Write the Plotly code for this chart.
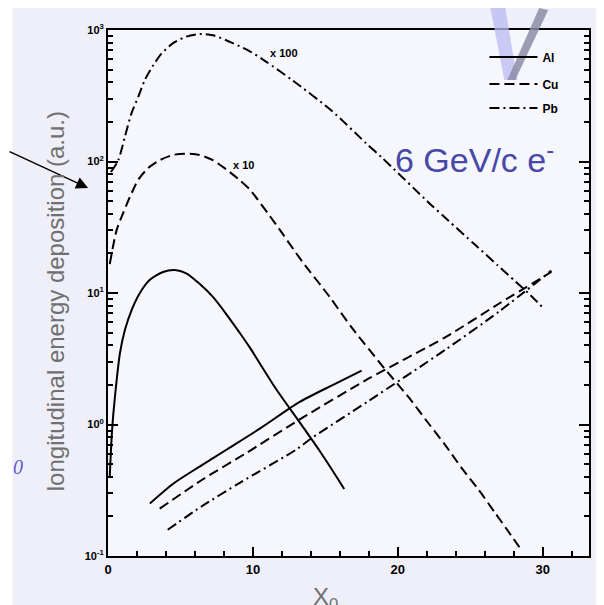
import plotly.graph_objects as go

# ---------------- data (displayed values incl. scale factors) --------------
al_x = [0.12, 0.25, 0.37, 0.6, 0.82, 1.17, 1.63, 2.2, 2.89, 3.8, 4.6, 5.4, 6.32, 7.24, 8.16, 9.07, 9.76, 11.6, 13.4, 14.6, 15.9, 16.3]
al_lg = [-0.4, -0.1, 0.085, 0.34, 0.54, 0.72, 0.87, 1.00, 1.10, 1.16, 1.175, 1.15, 1.07, 0.97, 0.84, 0.70, 0.59, 0.27, -0.01, -0.2, -0.42, -0.49]

cu_x = [0.12, 0.6, 1.05, 1.51, 2.08, 2.77, 3.57, 4.49, 5.41, 6.32, 7.24, 8.16, 9.07, 9.76, 11.6, 13.4, 15.3, 16.8, 18.9, 20.8, 21.9, 23.3, 24.4, 25.6, 26.7, 27.8, 28.5]
cu_lg = [1.22, 1.48, 1.61, 1.73, 1.86, 1.95, 2.01, 2.05, 2.06, 2.05, 2.01, 1.94, 1.86, 1.79, 1.52, 1.24, 0.97, 0.74, 0.45, 0.20, 0.04, -0.16, -0.33, -0.50, -0.67, -0.84, -0.95]

pb_x = [0.2, 0.71, 1.17, 1.63, 2.08, 2.54, 3.11, 3.69, 4.49, 5.41, 6.32, 7.24, 8.61, 9.76, 10.9, 12.7, 15.5, 17.8, 18.9, 22.3, 23.5, 25.3, 26.9, 28.1, 29.0, 30.0]
pb_lg = [1.92, 2.01, 2.19, 2.37, 2.49, 2.62, 2.73, 2.82, 2.90, 2.95, 2.97, 2.96, 2.90, 2.84, 2.76, 2.62, 2.38, 2.14, 2.03, 1.67, 1.55, 1.37, 1.21, 1.09, 1.00, 0.89]

al2_x = [2.89, 4.5, 6.32, 8.2, 10.5, 13.2, 15.5, 17.5]
al2_lg = [-0.60, -0.45, -0.32, -0.19, -0.03, 0.17, 0.30, 0.41]

cu2_x = [3.57, 6.5, 9.5, 13.4, 18.0, 23.3, 27.0, 30.6]
cu2_lg = [-0.64, -0.42, -0.22, 0.05, 0.35, 0.665, 0.92, 1.16]

pb2_x = [4.12, 6.5, 9.07, 13.0, 14.1, 18.0, 23.3, 27.0, 30.6]
pb2_lg = [-0.80, -0.62, -0.445, -0.19, -0.10, 0.18, 0.57, 0.86, 1.17]

x_ticks = [0, 10, 20, 30]
y_ticks = [0.1, 1, 10, 100, 1000]
y_ticktext = ["10<sup>-1</sup>", "10<sup>0</sup>", "10<sup>1</sup>", "10<sup>2</sup>", "10<sup>3</sup>"]

to_val = lambda lg: [round(10 ** v, 4) for v in lg]

# ---------------- geometry (page has an 8px body margin) ----------------
OFF = 8
VIS_R = 596
W, H = VIS_R - OFF, 605 - OFF
L, R, T, B = 108, 591, 30, 556          # plot frame in screen pixels
XSCALE = 14.55                           # px per radiation length
px = lambda x: (x - L) / (R - L)        # screen px -> paper
py = lambda y: (B - y) / (B - T)

fig = go.Figure()
lw = 2
DASH = "10px,5px"
DASHDOT = "10px,4px,2px,4px"
SM = 0.7

fig.add_trace(go.Scatter(x=al_x, y=to_val(al_lg), mode="lines", name="<b>Al</b>", legend="legend",
                         line=dict(color="black", width=lw, shape="spline", smoothing=SM)))
fig.add_trace(go.Scatter(x=cu_x, y=to_val(cu_lg), mode="lines", name="<b>Cu</b>", legend="legend2",
                         line=dict(color="black", width=lw, dash=DASH, shape="spline", smoothing=SM)))
fig.add_trace(go.Scatter(x=pb_x, y=to_val(pb_lg), mode="lines", name="<b>Pb</b>", legend="legend3",
                         line=dict(color="black", width=lw, dash=DASHDOT, shape="spline", smoothing=SM)))
fig.add_trace(go.Scatter(x=al2_x, y=to_val(al2_lg), mode="lines", showlegend=False,
                         line=dict(color="black", width=lw, shape="spline", smoothing=SM)))
fig.add_trace(go.Scatter(x=cu2_x, y=to_val(cu2_lg), mode="lines", showlegend=False,
                         line=dict(color="black", width=lw, dash=DASH, shape="spline", smoothing=SM)))
fig.add_trace(go.Scatter(x=pb2_x, y=to_val(pb2_lg), mode="lines", showlegend=False,
                         line=dict(color="black", width=lw, dash=DASHDOT, shape="spline", smoothing=SM)))

shapes = [
    # white strip at the left edge of the slide
    dict(type="rect", xref="paper", yref="paper", x0=px(OFF - 1), x1=px(12), y0=py(606), y1=py(OFF - 1),
         fillcolor="white", line=dict(width=0), layer="below"),
    # lavender "V" decoration (top right)
    dict(type="path", xref="paper", yref="paper",
         path=f"M {px(492)},{py(OFF)} L {px(507)},{py(OFF)} L {px(519)},{py(80)} L {px(506)},{py(80)} Z",
         fillcolor="rgba(185,185,240,0.75)", line=dict(width=0), layer="above"),
    dict(type="path", xref="paper", yref="paper",
         path=f"M {px(541)},{py(OFF)} L {px(550)},{py(OFF + 2)} L {px(517)},{py(80)} L {px(509)},{py(80)} Z",
         fillcolor="rgba(140,140,165,0.85)", line=dict(width=0), layer="above"),
]
fig.update_layout(shapes=shapes)

SANS = "Liberation Sans, Arial"
annotations = [
    dict(x=px(88), y=py(188), ax=-80, ay=-37, xref="paper", yref="paper", axref="pixel", ayref="pixel",
         showarrow=True, arrowhead=2, arrowsize=1.6, arrowwidth=1.5, arrowcolor="black", text=""),
    dict(x=px(55), y=py(301), xref="paper", yref="paper", xanchor="center", yanchor="middle",
         text="longitudinal energy deposition (a.u.)",
         textangle=-90, showarrow=False, font=dict(family=SANS, size=24, color="#707070")),
    dict(x=px(476), y=py(157), xref="paper", yref="paper", xanchor="center", yanchor="middle",
         text="6 GeV/c e<sup>-</sup>",
         showarrow=False, font=dict(family=SANS, size=34, color="#4848a8")),
    dict(x=px(326), y=py(581), xref="paper", yref="paper", xanchor="center", yanchor="top",
         text="X<sub>0</sub>",
         showarrow=False, font=dict(family=SANS, size=24, color="#707070")),
    dict(x=px(18), y=py(467), xref="paper", yref="paper", xanchor="center", yanchor="middle",
         text="<i>0</i>",
         showarrow=False, font=dict(family="Liberation Serif, Times New Roman", size=20, color="#5a5acd")),
    dict(x=px(285), y=py(53), xref="paper", yref="paper", xanchor="center", yanchor="middle",
         text="<b>x 100</b>",
         showarrow=False, font=dict(family=SANS, size=11, color="black")),
    dict(x=px(244), y=py(165), xref="paper", yref="paper", xanchor="center", yanchor="middle",
         text="<b>x 10</b>",
         showarrow=False, font=dict(family=SANS, size=11, color="black")),
]
fig.update_layout(annotations=annotations)

leg_common = dict(xanchor="left", yanchor="middle", bgcolor="rgba(0,0,0,0)", itemwidth=48,
                  font=dict(family=SANS, size=12, color="black"))
fig.update_layout(
    width=W, height=H,
    margin=dict(l=L - OFF, r=VIS_R - R, t=T - OFF, b=(605 - OFF) - (B - OFF), pad=0),
    paper_bgcolor="#efeff9",
    plot_bgcolor="#f6f6fd",
    showlegend=True,
    legend=dict(x=px(486), y=py(57), **leg_common),
    legend2=dict(x=px(486), y=py(84), **leg_common),
    legend3=dict(x=px(486), y=py(108), **leg_common),
    font=dict(family=SANS, color="black"),
)

fig.update_xaxes(
    range=[0, (R - L) / XSCALE], tickvals=x_ticks, ticktext=[f"<b>{v}</b>" for v in x_ticks],
    ticks="inside", ticklen=9, tickwidth=2, tickcolor="black",
    minor=dict(dtick=2, ticks="inside", ticklen=5, tickwidth=1.5, tickcolor="black"),
    showline=True, linewidth=2, linecolor="black", mirror=True,
    showgrid=False, zeroline=False, tickfont=dict(size=13, color="black"),
)
fig.update_yaxes(
    type="log", range=[-1, 3], tickvals=y_ticks, ticktext=[f"<b>{t}</b>" for t in y_ticktext],
    ticks="inside", ticklen=10, tickwidth=2, tickcolor="black",
    minor=dict(dtick="D1", ticks="inside", ticklen=5, tickwidth=1.5, tickcolor="black"),
    showline=True, linewidth=2, linecolor="black", mirror="ticks",
    showgrid=False, zeroline=False, tickfont=dict(size=11, color="black"),
)

fig.write_html("out.html")
